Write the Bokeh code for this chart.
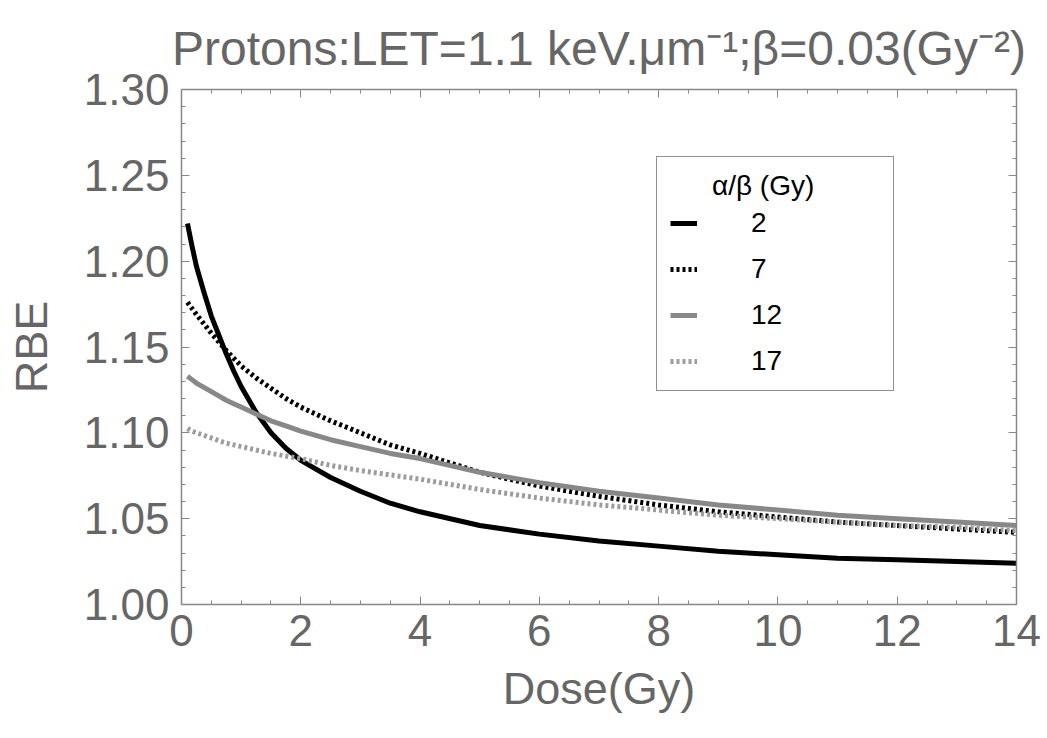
from bokeh.plotting import figure
from bokeh.models import (Range1d, LinearAxis, SingleIntervalTicker, Legend, LegendItem,
                          PrintfTickFormatter, CustomJSTickFormatter)
from bokeh.embed import file_html
from bokeh.resources import INLINE

# ---- data ----
dose = [0.1, 0.175, 0.25, 0.375, 0.5, 0.625, 0.75, 0.875, 1.0, 1.25, 1.5, 1.75, 2.0, 2.5, 3.0, 3.5, 4.0,
        5, 6, 7, 8, 9, 10, 11, 12, 13, 14]
rbe_ab2 = [1.222, 1.209, 1.197, 1.182, 1.168, 1.157, 1.146, 1.136, 1.127, 1.112, 1.100, 1.091, 1.084,
           1.074, 1.066, 1.059, 1.054, 1.046, 1.041, 1.037, 1.034, 1.031, 1.029, 1.027, 1.026, 1.025, 1.024]
rbe_ab7 = [1.176, 1.1725, 1.169, 1.1635, 1.158, 1.153, 1.148, 1.1435, 1.139, 1.132, 1.126, 1.120, 1.115,
           1.107, 1.100, 1.093, 1.088, 1.077, 1.069, 1.063, 1.058, 1.054, 1.051, 1.048, 1.046, 1.044, 1.042]
rbe_ab12 = [1.133, 1.131, 1.129, 1.1265, 1.124, 1.1215, 1.119, 1.117, 1.115, 1.111, 1.107, 1.104, 1.101,
            1.096, 1.092, 1.088, 1.085, 1.077, 1.071, 1.066, 1.062, 1.058, 1.055, 1.052, 1.050, 1.048, 1.046]
rbe_ab17 = [1.1025, 1.101, 1.100, 1.0985, 1.097, 1.0955, 1.094, 1.093, 1.092, 1.090, 1.088, 1.0865, 1.085,
            1.081, 1.078, 1.0755, 1.073, 1.067, 1.062, 1.058, 1.055, 1.052, 1.050, 1.048, 1.046, 1.045, 1.043]
series_labels = ["2", "7", "12", "17"]
x_ticks_step = 2
y_ticks_step = 0.05

FONT = "Liberation Sans"
TXT = "#666666"
AX = "#888888"

p = figure(width=1045, height=736, output_backend="svg", toolbar_location=None,
           x_range=Range1d(0, 14), y_range=Range1d(1.0, 1.30),
           x_axis_location=None, y_axis_location=None,
           min_border_left=181, min_border_right=29, min_border_top=89, min_border_bottom=132)
p.outline_line_color = None
p.xgrid.visible = False
p.ygrid.visible = False
p.background_fill_color = "white"
p.border_fill_color = "white"

p.title.text = "Protons:LET=1.1 keV.\u03bcm\u207b\u00b9;\u03b2=0.03(Gy\u207b\u00b2)"
p.title.align = "center"
p.title.text_font = FONT
p.title.text_font_size = "48px"
p.title.text_font_style = "normal"
p.title.text_color = TXT
p.title.standoff = 30


def style_axis(ax, labels=True):
    ax.axis_line_color = AX
    ax.axis_line_width = 1.5
    ax.major_tick_line_color = AX
    ax.minor_tick_line_color = AX
    ax.major_tick_in = 8
    ax.major_tick_out = 0
    ax.minor_tick_in = 4
    ax.minor_tick_out = 0
    ax.major_label_text_font = FONT
    ax.major_label_text_font_size = "44px"
    ax.major_label_text_color = TXT
    ax.axis_label_text_font = FONT
    ax.axis_label_text_font_size = "45px"
    ax.axis_label_text_font_style = "normal"
    ax.axis_label_text_color = TXT
    if not labels:
        ax.formatter = CustomJSTickFormatter(code="return ''")
        ax.major_label_standoff = 0


xb = LinearAxis(ticker=SingleIntervalTicker(interval=x_ticks_step, num_minor_ticks=4),
                axis_label="Dose(Gy)")
style_axis(xb)
xb.major_label_standoff = 10
xb.axis_label_standoff = 14
p.add_layout(xb, "below")

xt = LinearAxis(ticker=SingleIntervalTicker(interval=x_ticks_step, num_minor_ticks=4))
style_axis(xt, labels=False)
p.add_layout(xt, "above")

yl = LinearAxis(ticker=SingleIntervalTicker(interval=y_ticks_step, num_minor_ticks=5),
                axis_label="RBE", formatter=PrintfTickFormatter(format="%.2f"))
style_axis(yl)
yl.major_label_standoff = 12
yl.axis_label_standoff = 24
p.add_layout(yl, "left")

yr = LinearAxis(ticker=SingleIntervalTicker(interval=y_ticks_step, num_minor_ticks=5))
style_axis(yr, labels=False)
p.add_layout(yr, "right")

r2 = p.line(dose, rbe_ab2, line_color="black", line_width=5, line_join="round")
r7 = p.line(dose, rbe_ab7, line_color="black", line_width=5, line_dash="3 3")
r12 = p.line(dose, rbe_ab12, line_color="#888888", line_width=5, line_join="round")
r17 = p.line(dose, rbe_ab17, line_color="#9c9c9c", line_width=5, line_dash="3 3")

legend = Legend(items=[LegendItem(label=series_labels[0], renderers=[r2]),
                       LegendItem(label=series_labels[1], renderers=[r7]),
                       LegendItem(label=series_labels[2], renderers=[r12]),
                       LegendItem(label=series_labels[3], renderers=[r17])],
                location=(475, 213))
legend.title = "\u2003\u2002\u03b1/\u03b2 (Gy)"
legend.title_text_font = FONT
legend.title_text_font_size = "28px"
legend.title_text_font_style = "normal"
legend.title_text_color = "black"
legend.title_standoff = 5
legend.label_text_font = FONT
legend.label_text_font_size = "28px"
legend.label_text_color = "black"
legend.glyph_width = 27
legend.glyph_height = 32
legend.label_height = 32
legend.label_width = 129
legend.label_standoff = 54
legend.spacing = 14
legend.padding = 13
legend.margin = 0
legend.border_line_color = "#222222"
legend.border_line_width = 1.5
legend.background_fill_color = "white"
legend.background_fill_alpha = 1
p.add_layout(legend, "center")

open("out.html", "w").write(file_html(p, INLINE))
